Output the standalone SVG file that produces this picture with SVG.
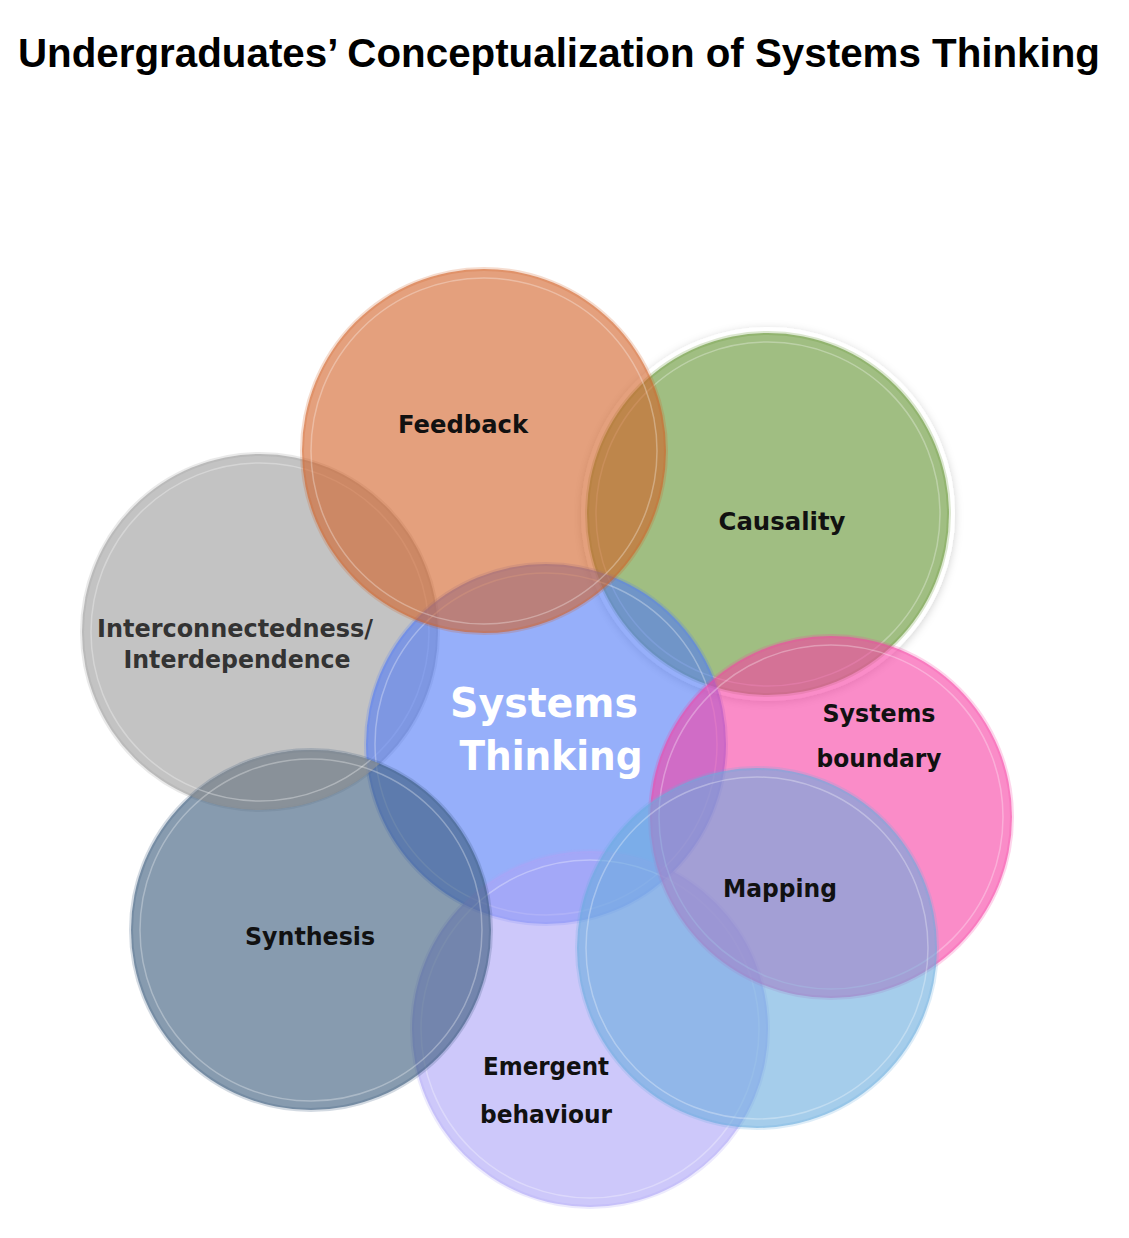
<svg xmlns="http://www.w3.org/2000/svg" width="1129" height="1238" viewBox="0 0 1129 1238">
  <style>
    .disc { fill-opacity: 0.6; stroke-opacity: 0.22; stroke-width: 4; }
    .ring { fill: none; stroke: #ffffff; stroke-opacity: 0.3; stroke-width: 1.5; }
    .lbl { font-family: "DejaVu Sans", "Liberation Sans", sans-serif; font-weight: bold; font-size: 24px; fill: #111111; text-anchor: middle; }
    .title { font-family: "Liberation Sans", Arial, sans-serif; font-weight: bold; font-size: 40px; fill: #000000; }
  </style>
  <defs>
    <filter id="shadow" x="-20%" y="-20%" width="140%" height="140%">
      <feDropShadow dx="0" dy="2" stdDeviation="4" flood-color="#000000" flood-opacity="0.18"/>
    </filter>
    <clipPath id="synthClip">
      <circle cx="311" cy="930" r="180"/>
    </clipPath>
  </defs>
  <rect width="1129" height="1238" fill="#ffffff"/>
  <text class="title" x="18" y="67" textLength="1082" lengthAdjust="spacingAndGlyphs">Undergraduates’ Conceptualization of Systems Thinking</text>

  <g id="causality">
    <circle cx="768" cy="514" r="184" fill="#ffffff" stroke="#ffffff" stroke-width="6" filter="url(#shadow)"/>
    <circle class="disc" cx="768" cy="514" r="181" fill="#61932F" stroke="#61932F"/>
    <circle class="ring" cx="768" cy="514" r="172"/>
    <text class="lbl" x="782" y="530" textLength="127" lengthAdjust="spacingAndGlyphs">Causality</text>
  </g>

  <g id="interconnectedness">
    <circle class="disc" cx="260" cy="632" r="178" fill="#9B9B9B" stroke="#9B9B9B"/>
    <circle class="ring" cx="260" cy="632" r="169"/>
    <text class="lbl" x="235" y="637" style="fill:#333333" textLength="276" lengthAdjust="spacingAndGlyphs">Interconnectedness/</text>
    <text class="lbl" x="237" y="668" style="fill:#333333" textLength="227" lengthAdjust="spacingAndGlyphs">Interdependence</text>
  </g>

  <g id="systems-thinking">
    <circle class="disc" cx="546" cy="744" r="180" fill="#507AF7" stroke="#507AF7"/>
    <circle class="ring" cx="546" cy="744" r="171"/>
    <text class="lbl" x="544" y="717" style="fill:#ffffff;font-size:40px" textLength="188" lengthAdjust="spacingAndGlyphs">Systems</text>
    <text class="lbl" x="551" y="770" style="fill:#ffffff;font-size:40px" textLength="183" lengthAdjust="spacingAndGlyphs">Thinking</text>
  </g>

  <g id="emergent-behaviour">
    <circle class="disc" cx="590" cy="1029" r="178" fill="#ACA3F7" stroke="#ACA3F7"/>
    <circle class="ring" cx="590" cy="1029" r="169"/>
    <text class="lbl" x="546" y="1075" textLength="126" lengthAdjust="spacingAndGlyphs">Emergent</text>
    <text class="lbl" x="546" y="1123" textLength="132" lengthAdjust="spacingAndGlyphs">behaviour</text>
  </g>

  <g id="synthesis">
    <circle class="disc" cx="311" cy="930" r="180" fill="#37587A" stroke="#37587A"/>
    <circle cx="260" cy="632" r="178" fill="#9B9B9B" fill-opacity="0.6" clip-path="url(#synthClip)"/>
    <circle class="ring" cx="311" cy="930" r="171"/>
    <circle class="ring" cx="260" cy="632" r="169" clip-path="url(#synthClip)"/>
    <text class="lbl" x="310" y="945" textLength="130" lengthAdjust="spacingAndGlyphs">Synthesis</text>
  </g>

  <g id="feedback">
    <circle class="disc" cx="484" cy="451" r="182" fill="#D26026" stroke="#D26026"/>
    <circle class="ring" cx="484" cy="451" r="173"/>
    <text class="lbl" x="463" y="433" textLength="130" lengthAdjust="spacingAndGlyphs">Feedback</text>
  </g>

  <g id="systems-boundary">
    <circle class="disc" cx="831" cy="817" r="181" fill="#F73FA3" stroke="#F73FA3"/>
    <circle class="ring" cx="831" cy="817" r="172"/>
    <text class="lbl" x="879" y="722" textLength="113" lengthAdjust="spacingAndGlyphs">Systems</text>
    <text class="lbl" x="879" y="767" textLength="125" lengthAdjust="spacingAndGlyphs">boundary</text>
  </g>

  <g id="mapping">
    <circle class="disc" cx="757" cy="948" r="180" fill="#69ACDE" stroke="#69ACDE"/>
    <circle class="ring" cx="757" cy="948" r="171"/>
    <text class="lbl" x="780" y="897" textLength="114" lengthAdjust="spacingAndGlyphs">Mapping</text>
  </g>

  <g id="connectors"></g>
</svg>
